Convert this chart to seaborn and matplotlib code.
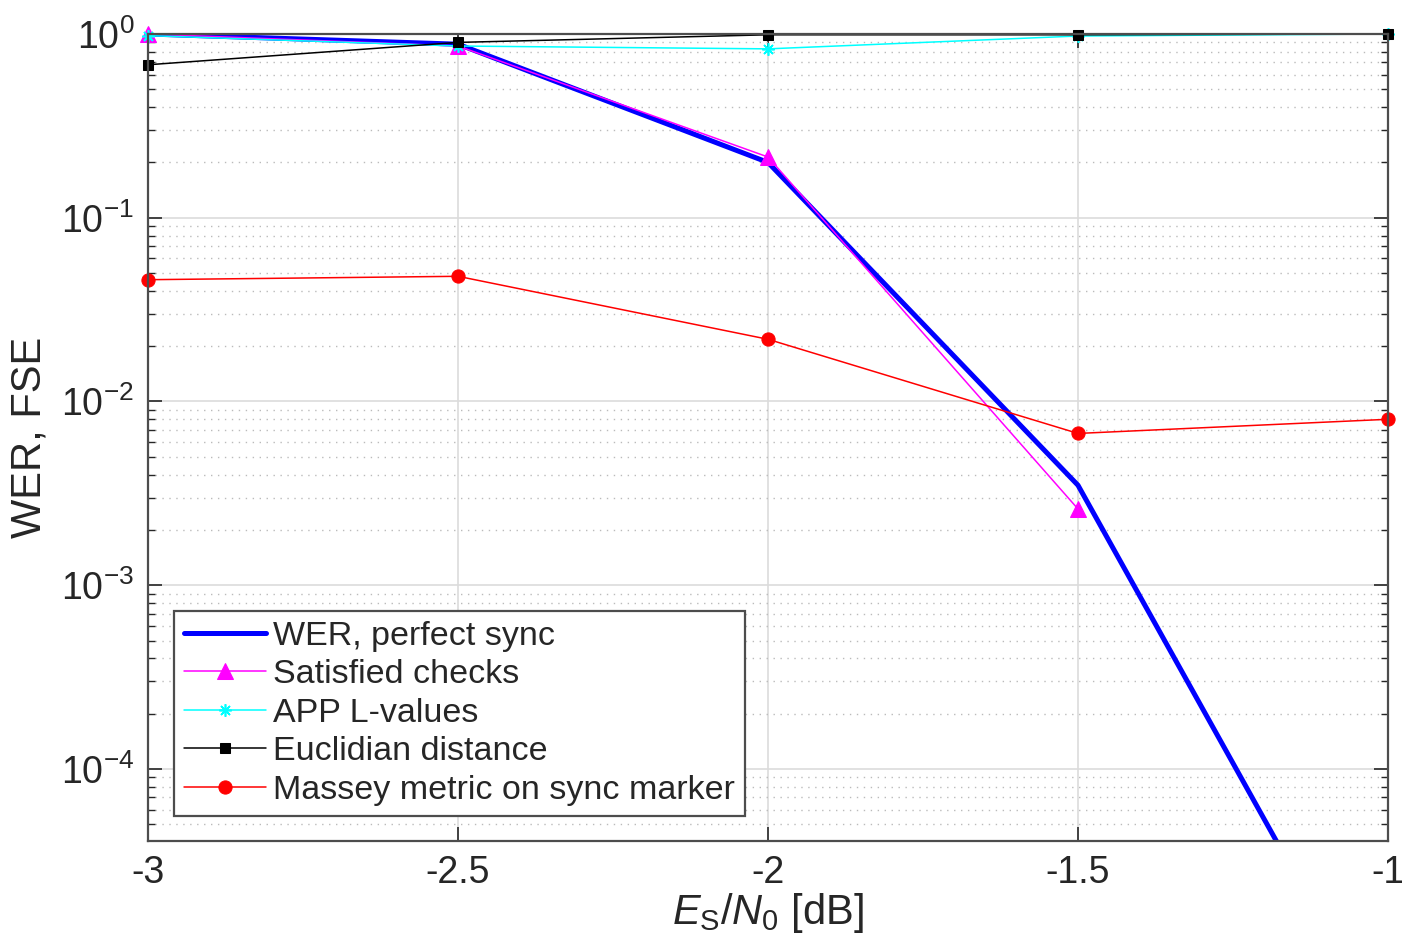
import numpy as np
import pandas as pd
import matplotlib
matplotlib.use("Agg")
import matplotlib.pyplot as plt
import matplotlib.ticker as mticker
import seaborn as sns

# Data
es_n0 = [-3.0, -2.5, -2.0, -1.5, -1.0]
wer_perfect = [1.0, 0.88, 0.20, 3.5e-3, 3.3e-6]
sat_checks_x = [-3.0, -2.5, -2.0, -1.5]
sat_checks = [1.0, 0.86, 0.214, 2.6e-3]
app_lvalues = [0.98, 0.86, 0.83, 0.975, 1.0]
euclid = [0.68, 0.90, 0.99, 0.99, 1.0]
massey = [0.046, 0.048, 0.0218, 0.0067, 0.0080]

sns.set_style("ticks")
plt.rcParams["font.family"] = ["Liberation Sans", "DejaVu Sans"]
plt.rcParams["mathtext.fontset"] = "custom"
plt.rcParams["mathtext.rm"] = "Liberation Sans"
plt.rcParams["mathtext.it"] = "Liberation Sans:italic"
plt.rcParams["mathtext.bf"] = "Liberation Sans:bold"

fig = plt.figure(figsize=(14.02, 9.52), dpi=100)
ax = fig.add_axes([0.1056, 0.1167, 0.8844, 0.8476])

sns.lineplot(x=es_n0, y=wer_perfect, ax=ax, color="blue", linewidth=3.6,
             label="WER, perfect sync")
sns.lineplot(x=sat_checks_x, y=sat_checks, ax=ax, color="magenta", linewidth=1.1,
             marker="^", markersize=12, markeredgecolor="magenta", clip_on=False,
             label="Satisfied checks")
sns.lineplot(x=es_n0, y=app_lvalues, ax=ax, color="cyan", linewidth=1.1,
             marker=(8, 2, 0), markersize=9, markeredgewidth=1.2, markeredgecolor="cyan",
             clip_on=False, label="APP L-values")
sns.lineplot(x=es_n0, y=euclid, ax=ax, color="black", linewidth=1.1,
             marker="s", markersize=7, markeredgecolor="black", clip_on=False,
             label="Euclidian distance")
sns.lineplot(x=es_n0, y=massey, ax=ax, color="red", linewidth=1.1,
             marker="o", markersize=9.5, markeredgecolor="red", clip_on=False,
             label="Massey metric on sync marker")

ax.set_yscale("log")
ax.set_xlim(-3, -1)
ax.set_ylim(4.06e-5, 1.0)
ax.set_xticks([-3, -2.5, -2, -1.5, -1])
ax.set_xticklabels(["-3", "-2.5", "-2", "-1.5", "-1"])
ax.yaxis.set_major_locator(mticker.LogLocator(base=10, numticks=10))
ax.yaxis.set_minor_locator(mticker.LogLocator(base=10, subs=np.arange(2, 10), numticks=10))
ax.yaxis.set_minor_formatter(mticker.NullFormatter())

ax.grid(True, which="major", axis="both", color="#dcdcdc", linewidth=1.2, linestyle="-")
ax.grid(True, which="minor", axis="y", color="#bbbbbb", linewidth=1.0, linestyle=(0, (1, 4)))
ax.set_axisbelow(True)

axis_col = "#4d4d4d"
for sp in ax.spines.values():
    sp.set_visible(True)
    sp.set_color(axis_col)
    sp.set_linewidth(1.6)
ax.tick_params(which="both", direction="in", top=True, right=True,
               color="#262626", labelcolor="#262626", labelsize=27, pad=10)
ax.tick_params(which="major", length=10, width=1.2)
ax.tick_params(which="minor", length=5, width=1.0)

ax.set_xlabel(r"$E_{\mathrm{S}}/N_0$ [dB]", fontsize=30, color="#262626", labelpad=0)
ax.set_ylabel("WER, FSE", fontsize=30, color="#262626", labelpad=8)

leg = ax.legend(loc="lower left", bbox_to_anchor=(0.021, 0.031), borderaxespad=0,
                fontsize=24.5, handlelength=2.4, handletextpad=0.2, labelspacing=0.22,
                borderpad=0.3, fancybox=False, framealpha=1, edgecolor=axis_col)
leg.get_frame().set_linewidth(1.6)

fig.savefig("out.png", dpi=100)
